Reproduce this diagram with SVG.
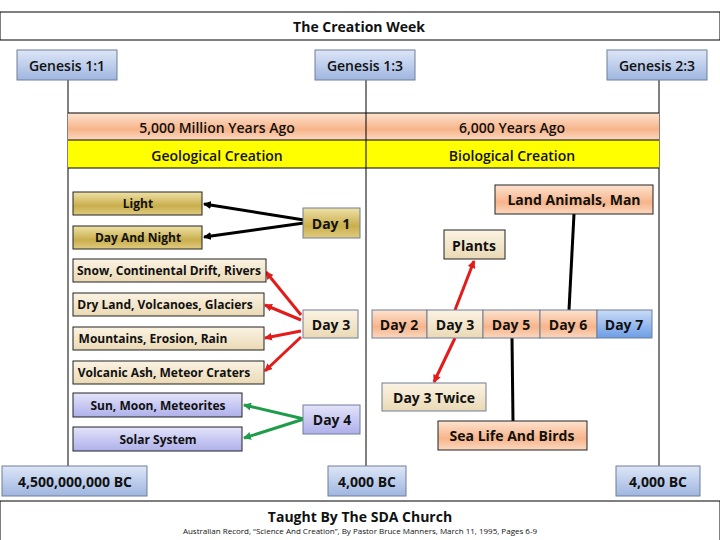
<svg xmlns="http://www.w3.org/2000/svg" width="720" height="540" viewBox="0 0 720 540">
<defs>
<linearGradient id="blue" x1="0" y1="0" x2="0" y2="1"><stop offset="0" stop-color="#dde6f7"/><stop offset="1" stop-color="#9fb6e0"/></linearGradient>
<linearGradient id="orange" x1="0" y1="0" x2="0" y2="1"><stop offset="0" stop-color="#fde3d0"/><stop offset="0.6" stop-color="#f7b48a"/><stop offset="1" stop-color="#fbd8c0"/></linearGradient>
<linearGradient id="gold" x1="0" y1="0" x2="0" y2="1"><stop offset="0" stop-color="#efe2a8"/><stop offset="0.6" stop-color="#c9ae4c"/><stop offset="1" stop-color="#e0cc80"/></linearGradient>
<linearGradient id="tan" x1="0" y1="0" x2="0" y2="1"><stop offset="0" stop-color="#fbf3e3"/><stop offset="1" stop-color="#ead9b5"/></linearGradient>
<linearGradient id="lav" x1="0" y1="0" x2="0" y2="1"><stop offset="0" stop-color="#e3e3fa"/><stop offset="1" stop-color="#aeb0ea"/></linearGradient>
<linearGradient id="day7" x1="0" y1="0" x2="0" y2="1"><stop offset="0" stop-color="#c9dcf7"/><stop offset="1" stop-color="#6d9de6"/></linearGradient>
<marker id="ak" markerWidth="8" markerHeight="8" refX="7" refY="4" orient="auto" markerUnits="userSpaceOnUse" viewBox="0 0 8 8"><path d="M0,0 L8,4 L0,8 z" fill="#000"/></marker>
<marker id="ar" markerWidth="8" markerHeight="8" refX="7" refY="4" orient="auto" markerUnits="userSpaceOnUse" viewBox="0 0 8 8"><path d="M0,0 L8,4 L0,8 z" fill="#e31b1b"/></marker>
<marker id="ag" markerWidth="8" markerHeight="8" refX="7" refY="4" orient="auto" markerUnits="userSpaceOnUse" viewBox="0 0 8 8"><path d="M0,0 L8,4 L0,8 z" fill="#1f9c4a"/></marker>
<style>
text{font-family:"Open Sans","Liberation Sans",sans-serif;font-weight:bold;fill:#111;text-anchor:middle;dominant-baseline:central}
.t14{font-size:14px}.t12{font-size:12px}.t11{font-size:11.5px}
.bx{stroke:#6f7f97;stroke-width:1}
.dk{stroke:#222;stroke-width:1}
.ln{stroke:#000;stroke-width:1;fill:none}
</style>
</defs>
<rect x="0" y="0" width="720" height="540" fill="#fff"/>
<g id="frame">
<rect x="0" y="12" width="720" height="28" fill="#fff" stroke="#000"/>
<text x="359" y="26" class="t14">The Creation Week</text>
<rect x="0" y="501" width="720" height="45" fill="#fff" stroke="#000"/>
<text x="360" y="516" class="t14">Taught By The SDA Church</text>
<text x="360" y="530" style="font-size:8px;font-weight:normal">Australian Record, “Science And Creation”, By Pastor Bruce Manners, March 11, 1995, Pages 6-9</text>
</g>
<g id="timelines">
<line x1="68" y1="80" x2="68" y2="466" class="ln"/>
<line x1="366" y1="80" x2="366" y2="466" class="ln"/>
<line x1="659" y1="80" x2="659" y2="466" class="ln"/>
<rect x="68" y="113" width="591" height="27" fill="url(#orange)"/>
<rect x="68" y="140" width="591" height="28" fill="#ffff00"/>
<line x1="68" y1="113" x2="659" y2="113" class="ln"/>
<line x1="68" y1="140" x2="659" y2="140" class="ln"/>
<line x1="68" y1="168" x2="659" y2="168" class="ln"/>
<line x1="366" y1="113" x2="366" y2="168" class="ln"/>
<text x="217" y="127" class="t14" style="font-weight:600">5,000 Million Years Ago</text>
<text x="512" y="127" class="t14" style="font-weight:600">6,000 Years Ago</text>
<text x="217" y="155" class="t14" style="font-weight:600">Geological Creation</text>
<text x="512" y="155" class="t14" style="font-weight:600">Biological Creation</text>
</g>
<g id="connectors">
<line x1="304" y1="220" x2="204" y2="204" stroke="#000" stroke-width="3" marker-end="url(#ak)"/>
<line x1="304" y1="223" x2="204" y2="237" stroke="#000" stroke-width="3" marker-end="url(#ak)"/>
<line x1="301" y1="315" x2="266" y2="272" stroke="#e31b1b" stroke-width="3" marker-end="url(#ar)"/>
<line x1="301" y1="320" x2="265" y2="305" stroke="#e31b1b" stroke-width="3" marker-end="url(#ar)"/>
<line x1="301" y1="331" x2="265" y2="338" stroke="#e31b1b" stroke-width="3" marker-end="url(#ar)"/>
<line x1="301" y1="337" x2="265" y2="371" stroke="#e31b1b" stroke-width="3" marker-end="url(#ar)"/>
<line x1="304" y1="419" x2="244" y2="405" stroke="#1f9c4a" stroke-width="3" marker-end="url(#ag)"/>
<line x1="304" y1="419" x2="244" y2="438" stroke="#1f9c4a" stroke-width="3" marker-end="url(#ag)"/>
<line x1="455" y1="310" x2="474" y2="261" stroke="#e31b1b" stroke-width="3" marker-end="url(#ar)"/>
<line x1="455" y1="338" x2="434" y2="382" stroke="#e31b1b" stroke-width="3" marker-end="url(#ar)"/>
<line x1="574" y1="214" x2="569" y2="310" stroke="#000" stroke-width="3"/>
<line x1="512" y1="338" x2="513" y2="421" stroke="#000" stroke-width="3"/>
</g>
<g id="genesis11"><rect x="17" y="50" width="100" height="30" fill="url(#blue)" class="bx"/><text x="67" y="65" class="t14" style="font-weight:600">Genesis 1:1</text></g>
<g id="genesis13"><rect x="315" y="50" width="100" height="30" fill="url(#blue)" class="bx"/><text x="365" y="65" class="t14" style="font-weight:600">Genesis 1:3</text></g>
<g id="genesis23"><rect x="607" y="50" width="100" height="30" fill="url(#blue)" class="bx"/><text x="657" y="65" class="t14" style="font-weight:600">Genesis 2:3</text></g>
<g id="light"><rect x="73" y="192" width="129" height="23" fill="url(#gold)" class="dk"/><text x="138" y="203.5" class="t12">Light</text></g>
<g id="daynight"><rect x="73" y="226" width="129" height="23" fill="url(#gold)" class="dk"/><text x="138" y="237.5" class="t12">Day And Night</text></g>
<g id="snow"><rect x="73" y="259" width="193" height="23" fill="url(#tan)" class="dk"/><text x="169" y="270.5" class="t12">Snow, Continental Drift, Rivers</text></g>
<g id="dry"><rect x="73" y="293" width="191" height="23" fill="url(#tan)" class="dk"/><text x="165" y="304.5" class="t12">Dry Land, Volcanoes, Glaciers</text></g>
<g id="mount"><rect x="73" y="327" width="191" height="23" fill="url(#tan)" class="dk"/><text x="153" y="338.5" class="t12">Mountains, Erosion, Rain</text></g>
<g id="volc"><rect x="73" y="361" width="191" height="23" fill="url(#tan)" class="dk"/><text x="164" y="372.5" class="t12">Volcanic Ash, Meteor Craters</text></g>
<g id="sun"><rect x="73" y="393" width="169" height="24" fill="url(#lav)" class="dk"/><text x="158" y="405" class="t12">Sun, Moon, Meteorites</text></g>
<g id="solar"><rect x="73" y="427" width="169" height="24" fill="url(#lav)" class="dk"/><text x="158" y="439" class="t12">Solar System</text></g>
<g id="day1"><rect x="303" y="208" width="57" height="30" fill="url(#gold)" class="bx"/><text x="331" y="223" class="t14">Day 1</text></g>
<g id="day3l"><rect x="303" y="310" width="55" height="28" fill="url(#tan)" class="bx"/><text x="331" y="324" class="t14">Day 3</text></g>
<g id="day4"><rect x="303" y="405" width="57" height="29" fill="url(#lav)" class="bx"/><text x="332" y="419.5" class="t14">Day 4</text></g>
<g id="landanimals"><rect x="495" y="185" width="158" height="29" fill="url(#orange)" class="dk"/><text x="574" y="199.5" class="t14">Land Animals, Man</text></g>
<g id="plants"><rect x="444" y="230" width="61" height="29" fill="url(#tan)" class="dk"/><text x="474" y="245" class="t14">Plants</text></g>
<g id="dayrow">
<rect x="372" y="310" width="55" height="28" fill="url(#orange)" class="bx"/><text x="399" y="324" class="t14">Day 2</text>
<rect x="427" y="310" width="56" height="28" fill="url(#tan)" class="bx"/><text x="455" y="324" class="t14">Day 3</text>
<rect x="483" y="310" width="57" height="28" fill="url(#orange)" class="bx"/><text x="511" y="324" class="t14">Day 5</text>
<rect x="540" y="310" width="57" height="28" fill="url(#orange)" class="bx"/><text x="568" y="324" class="t14">Day 6</text>
<rect x="597" y="310" width="55" height="28" fill="url(#day7)" class="bx"/><text x="624" y="324" class="t14">Day 7</text>
</g>
<g id="day3twice"><rect x="382" y="383" width="104" height="28" fill="url(#tan)" class="bx"/><text x="434" y="397" class="t14">Day 3 Twice</text></g>
<g id="sealife"><rect x="438" y="421" width="149" height="29" fill="url(#orange)" class="dk"/><text x="512" y="435.5" class="t14">Sea Life And Birds</text></g>
<g id="bc1"><rect x="2" y="466" width="145" height="30" fill="url(#blue)" class="bx"/><text x="75" y="481" class="t14">4,500,000,000 BC</text></g>
<g id="bc2"><rect x="328" y="466" width="78" height="30" fill="url(#blue)" class="bx"/><text x="367" y="481" class="t14">4,000 BC</text></g>
<g id="bc3"><rect x="616" y="466" width="84" height="30" fill="url(#blue)" class="bx"/><text x="658" y="481" class="t14">4,000 BC</text></g>
</svg>
